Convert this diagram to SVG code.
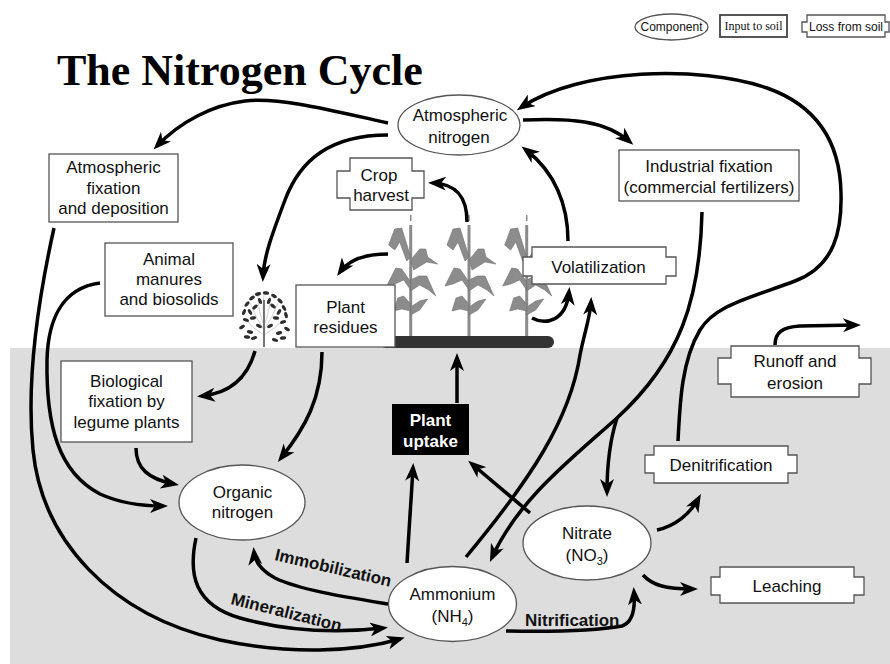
<svg xmlns="http://www.w3.org/2000/svg" width="890" height="664" viewBox="0 0 890 664">
<style>
.box{fill:#fff;stroke:#555;stroke-width:1.3}
.ell{fill:#fff;stroke:#555;stroke-width:1.3}
.t{font-family:"Liberation Sans",Arial,sans-serif;font-size:17px;fill:#111;text-anchor:middle}
.lbl{font-family:"Liberation Sans",Arial,sans-serif;font-size:17px;font-weight:bold;fill:#111}
.c{fill:none;stroke:#000;stroke-width:3.5;marker-end:url(#ah)}
.leaf{fill:#8c8c8c;stroke:#707070;stroke-width:0.6}
.sl{fill:#2e2e2e}
</style>
<defs>
<marker id="ah" markerUnits="userSpaceOnUse" markerWidth="18" markerHeight="14" viewBox="0 0 18 14" refX="13" refY="7" orient="auto">
<path d="M0,0 L18,7 L0,14 L5,7 Z" fill="#000"/>
</marker>
<g id="corn">
<line x1="0" y1="-112" x2="0" y2="0" stroke="#8a8a8a" stroke-width="3"/>
<line x1="0" y1="-122" x2="0" y2="-116" stroke="#8a8a8a" stroke-width="1.5"/>
<polygon class="leaf" points="0,-80 -9,-109 -16,-108 -22,-92 -16,-87 -11,-95 -4,-76"/>
<polygon class="leaf" points="0,-77 9,-88 15,-88 17,-80 27,-73 16,-75 3,-67"/>
<polygon class="leaf" points="0,-55 -9,-68 -15,-69 -24,-51 -16,-53 -7,-57 0,-47"/>
<polygon class="leaf" points="0,-57 8,-61 16,-61 25,-41 18,-47 9,-52 0,-46"/>
<polygon class="leaf" points="0,-33 -7,-41 -13,-39 -17,-26 -9,-28 0,-26"/>
<polygon class="leaf" points="0,-30 9,-36 17,-38 9,-27 0,-22"/>
</g>
<ellipse id="sleaf" cx="0" cy="0" rx="3.2" ry="1.7"/>
</defs>

<rect x="10" y="348" width="880" height="316" fill="#dddddd"/>

<text x="57" y="85" font-family="'Liberation Serif','Times New Roman',serif" font-size="44" font-weight="bold" fill="#000">The Nitrogen Cycle</text>

<g id="legend">
<ellipse class="ell" cx="671.5" cy="27" rx="36.5" ry="13"/>
<text x="671.5" y="31" font-family="'Liberation Sans',Arial,sans-serif" font-size="12" text-anchor="middle" fill="#111">Component</text>
<rect x="720" y="15" width="67" height="22" fill="#fff" stroke="#444" stroke-width="1.8"/>
<text x="753.5" y="30" font-family="'Liberation Serif','Times New Roman',serif" font-size="12" text-anchor="middle" fill="#111">Input to soil</text>
<path class="box" d="M807,15 H885 V22 H889 V32 H885 V37 H807 V32 H802 V22 H807 Z"/>
<text x="846" y="30.5" font-family="'Liberation Sans',Arial,sans-serif" font-size="12" text-anchor="middle" fill="#111">Loss from soil</text>
</g>

<g id="shrub">
<g stroke="#c4c4c4" stroke-width="0.8" fill="none">
<path d="M264,330 Q256,318 250,303"/><path d="M264,330 Q272,318 278,303"/>
<path d="M264,325 Q258,312 258,296"/><path d="M264,325 Q270,312 270,296"/>
<path d="M264,335 Q252,328 246,320"/><path d="M264,335 Q276,328 283,320"/>
<path d="M264,320 Q262,308 264,294"/>
</g>
<line x1="264" y1="300" x2="264" y2="347" stroke="#555" stroke-width="1.6"/>
<g class="sl">
<use href="#sleaf" transform="translate(252,298) rotate(-35)"/>
<use href="#sleaf" transform="translate(258,294) rotate(-15)"/>
<use href="#sleaf" transform="translate(266,293) rotate(10)"/>
<use href="#sleaf" transform="translate(274,296) rotate(30)"/>
<use href="#sleaf" transform="translate(280,301) rotate(45)"/>
<use href="#sleaf" transform="translate(247,304) rotate(-50)"/>
<use href="#sleaf" transform="translate(284,308) rotate(60)"/>
<use href="#sleaf" transform="translate(244,312) rotate(-70)"/>
<use href="#sleaf" transform="translate(286,315) rotate(75)"/>
<use href="#sleaf" transform="translate(246,320) rotate(20)"/>
<use href="#sleaf" transform="translate(283,322) rotate(-20)"/>
<use href="#sleaf" transform="translate(242,327) rotate(-30)"/>
<use href="#sleaf" transform="translate(287,329) rotate(30)"/>
<use href="#sleaf" transform="translate(250,332) rotate(15)"/>
<use href="#sleaf" transform="translate(279,333) rotate(-15)"/>
<use href="#sleaf" transform="translate(255,307) rotate(-40)"/>
<use href="#sleaf" transform="translate(273,306) rotate(40)"/>
<use href="#sleaf" transform="translate(253,318) rotate(-10)"/>
<use href="#sleaf" transform="translate(276,318) rotate(10)"/>
<use href="#sleaf" transform="translate(259,326) rotate(25)"/>
<use href="#sleaf" transform="translate(270,326) rotate(-25)"/>
<use href="#sleaf" transform="translate(247,337) rotate(10)"/>
<use href="#sleaf" transform="translate(283,338) rotate(-10)"/>
<use href="#sleaf" transform="translate(250,312) rotate(60)"/>
<use href="#sleaf" transform="translate(279,312) rotate(-60)"/>
<use href="#sleaf" transform="translate(260,301) rotate(70)"/>
<use href="#sleaf" transform="translate(269,301) rotate(-70)"/>
<use href="#sleaf" transform="translate(254,338) rotate(-20)"/>
<use href="#sleaf" transform="translate(275,340) rotate(20)"/>
</g>
</g>

<g id="plants">
<use href="#corn" x="410.7" y="337"/>
<use href="#corn" x="469" y="337"/>
<use href="#corn" x="526.7" y="337"/>
<rect x="380" y="336" width="174" height="12" rx="6" fill="#333"/>
</g>

<g id="connectors">
<path class="c" d="M388,123 C330,110 280,97 245,101 C212,105 180,122 157,146"/>
<path class="c" d="M388,135 C330,135 300,160 285,200 C273,232 264,255 263,277"/>
<path class="c" d="M54,228 C38,300 26,380 33,450 C42,540 110,615 220,640 C290,655 355,652 400,639"/>
<path class="c" d="M100,283 C62,288 48,320 47,360 C46,425 58,472 100,494 C122,504 145,506 163,506"/>
<path class="c" d="M136,448 C136,468 148,479 174,484"/>
<path class="c" d="M255,351 C248,376 232,393 202,396"/>
<path class="c" d="M322,352 C322,398 305,428 281,458"/>
<path class="c" d="M196,538 C188,575 195,605 240,618 C290,632 340,633 383,628"/>
<path class="c" d="M388,604 C345,597 300,590 275,578 C262,571 255,562 254,552"/>
<path class="c" d="M407,563 L413,468"/>
<path class="c" d="M457,403 L457,358"/>
<path class="c" d="M530,513 L472,464"/>
<path class="c" d="M466,557 C530,480 570,420 580,355 C585,330 590,318 591,302"/>
<path class="c" d="M532,318 C545,325 566,322 569,292"/>
<path class="c" d="M568,241 C568,205 555,172 525.5,149.5"/>
<path class="c" d="M467,222 C467,196 456,184 433,183"/>
<path class="c" d="M388,254 C370,254 350,258 340,272"/>
<path class="c" d="M523,120 C570,118 605,120 629.5,141.5"/>
<path class="c" d="M702,212 C700,300 680,360 617,418 C570,460 518,500 492,557.5"/>
<path class="c" d="M617,418 C610,440 607,465 607,492"/>
<path class="c" d="M678,441 C680,400 682,360 700,330 C715,305 750,298 795,281 C835,266 842,230 841,193 C840,140 815,105 767,88 C700,65 580,68 521,107.5"/>
<path class="c" d="M775,345 C775,332 783,327 800,326 L856,325"/>
<path class="c" d="M657,530 C675,526 690,514 698.5,498.5"/>
<path class="c" d="M643,575 C652,585 665,589 693,589"/>
<path class="c" d="M506,631 C560,632 600,630 622,626 C634,622 635,605 634,592"/>
</g>

<g id="labels">
<text class="lbl" transform="translate(274,560) rotate(13)">Immobilization</text>
<text class="lbl" transform="translate(230,604) rotate(14)">Mineralization</text>
<text class="lbl" x="525" y="626">Nitrification</text>
</g>

<g id="atmospheric-nitrogen">
<ellipse class="ell" cx="459" cy="125" rx="61" ry="30"/>
<text class="t" x="460" y="121">Atmospheric</text>
<text class="t" x="459" y="143">nitrogen</text>
</g>
<g id="atmospheric-fixation">
<rect class="box" x="49" y="154" width="129" height="68"/>
<text class="t" x="113.5" y="173">Atmospheric</text>
<text class="t" x="113.5" y="194">fixation</text>
<text class="t" x="113.5" y="214">and deposition</text>
</g>
<g id="industrial-fixation">
<rect class="box" x="619" y="150" width="180" height="51"/>
<text class="t" x="709" y="172">Industrial fixation</text>
<text class="t" x="709" y="193">(commercial fertilizers)</text>
</g>
<g id="crop-harvest">
<path class="box" d="M350,158 H412 V171 H424 V198 H412 V210 H350 V198 H337 V171 H350 Z"/>
<text class="t" x="379" y="181">Crop</text>
<text class="t" x="381" y="201">harvest</text>
</g>
<g id="animal-manures">
<rect class="box" x="105" y="243" width="128" height="73"/>
<text class="t" x="169" y="265">Animal</text>
<text class="t" x="169" y="285">manures</text>
<text class="t" x="169" y="305">and biosolids</text>
</g>
<g id="volatilization">
<path class="box" d="M532,247 H666 V257 H676 V276 H666 V284 H532 V276 H523 V257 H532 Z"/>
<text class="t" x="598.5" y="272.5">Volatilization</text>
</g>
<g id="plant-residues">
<rect class="box" x="296" y="285" width="99" height="62"/>
<text class="t" x="345.5" y="313">Plant</text>
<text class="t" x="345.5" y="333">residues</text>
</g>
<g id="runoff">
<path class="box" d="M731,346 H859 V358 H871 V384 H859 V397 H731 V384 H718 V358 H731 Z"/>
<text class="t" x="795" y="367">Runoff and</text>
<text class="t" x="795" y="389">erosion</text>
</g>
<g id="biological-fixation">
<rect class="box" x="61" y="361" width="131" height="81"/>
<text class="t" x="126.5" y="387">Biological</text>
<text class="t" x="126.5" y="407">fixation by</text>
<text class="t" x="126.5" y="428">legume plants</text>
</g>
<g id="plant-uptake">
<rect x="392" y="404" width="77" height="51" fill="#000"/>
<text class="t" x="430.5" y="426" style="fill:#fff;font-weight:bold">Plant</text>
<text class="t" x="430.5" y="447" style="fill:#fff;font-weight:bold">uptake</text>
</g>
<g id="denitrification">
<path class="box" d="M654,446 H788 V455 H797 V473 H788 V483 H654 V473 H645 V455 H654 Z"/>
<text class="t" x="721" y="470.5">Denitrification</text>
</g>
<g id="organic-nitrogen">
<ellipse class="ell" cx="242" cy="502.5" rx="63" ry="37.5"/>
<text class="t" x="242.5" y="498">Organic</text>
<text class="t" x="242.5" y="518">nitrogen</text>
</g>
<g id="nitrate">
<ellipse class="ell" cx="587" cy="543" rx="64" ry="37"/>
<text class="t" x="587" y="539">Nitrate</text>
<text class="t" x="587" y="561">(NO<tspan font-size="11" dy="4">3</tspan><tspan dy="-4">)</tspan></text>
</g>
<g id="leaching">
<path class="box" d="M720,567 H854 V577 H864 V595 H854 V603 H720 V595 H711 V577 H720 Z"/>
<text class="t" x="787" y="592">Leaching</text>
</g>
<g id="ammonium">
<ellipse class="ell" cx="452.5" cy="604" rx="64" ry="37.5"/>
<text class="t" x="452.5" y="600">Ammonium</text>
<text class="t" x="452.5" y="622">(NH<tspan font-size="11" dy="4">4</tspan><tspan dy="-4">)</tspan></text>
</g>
</svg>
